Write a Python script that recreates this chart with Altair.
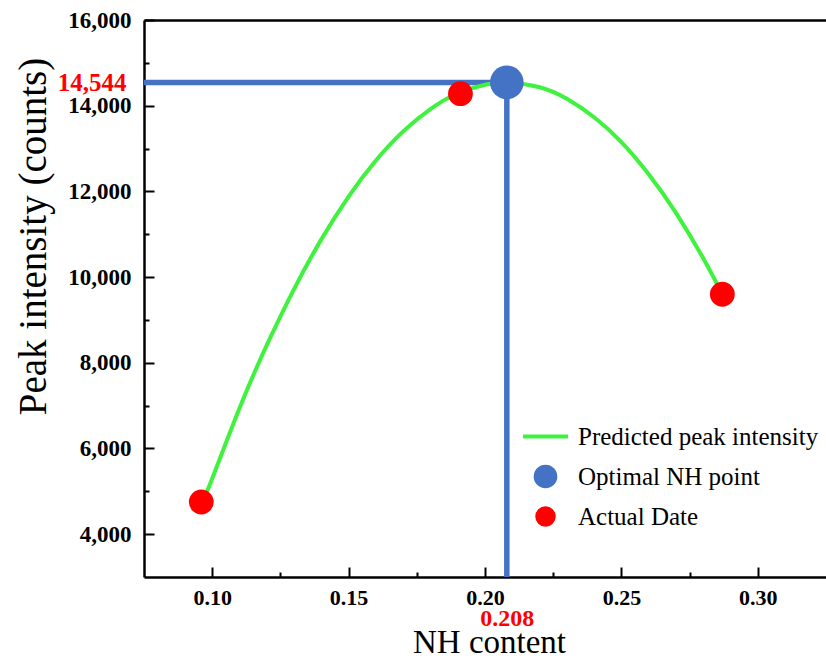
import altair as alt
import pandas as pd

# ---------------- data ----------------
series_names = ["Predicted peak intensity", "Optimal NH point", "Actual Date"]
series_colors = ["#3EF23E", "#4472C4", "#FF0000"]

curve_x = [0.096, 0.10, 0.11, 0.12, 0.13, 0.14, 0.15, 0.16, 0.17, 0.18, 0.19,
           0.20, 0.208, 0.22, 0.23, 0.24, 0.25, 0.26, 0.27, 0.28, 0.287]
curve_y = [4700, 5300, 6940, 8410, 9720, 10880, 11880, 12720, 13400, 13920, 14290,
           14490, 14544, 14430, 14160, 13730, 13150, 12400, 11500, 10440, 9600]

actual_x = [0.096, 0.191, 0.287]
actual_y = [4750, 14280, 9600]

opt_x = 0.208
opt_y = 14544

x_domain = [0.075, 0.325]
y_domain = [3000, 16000]
x_major = [0.10, 0.15, 0.20, 0.25, 0.30]
x_minor = [0.125, 0.175, 0.225, 0.275]
y_major = [4000, 6000, 8000, 10000, 12000, 14000, 16000]
y_minor = [5000, 7000, 9000, 11000, 13000, 15000]

x_title = "NH content"
y_title = "Peak intensity (counts)"

# ---------------- layout ----------------
W, H = 682, 557
FONT = "Liberation Serif"

curve_df = pd.DataFrame({"x": curve_x, "y": curve_y, "series": series_names[0]})
actual_df = pd.DataFrame({"x": actual_x, "y": actual_y, "series": series_names[2]})
opt_df = pd.DataFrame({"x": [opt_x], "y": [opt_y], "x0": [x_domain[0]],
                       "y0": [y_domain[0]], "series": [series_names[1]]})

xs = alt.Scale(domain=x_domain, nice=False, zero=False)
ys = alt.Scale(domain=y_domain, nice=False, zero=False)
cs = alt.Scale(domain=series_names, range=series_colors)

sym_shape = "datum.value === '%s' ? 'stroke' : 'circle'" % series_names[0]
sym_size = "datum.value === '%s' ? 2025 : (datum.value === '%s' ? 560 : 420)" % (series_names[0], series_names[1])
sym_sw = "datum.value === '%s' ? 4 : 0" % series_names[0]
sym_col = "scale('color', datum.value)"

legend = alt.Legend(
    title=None, orient="none", legendX=389, legendY=404, padding=0,
    labelFont=FONT, labelFontSize=25, labelColor="black", labelLimit=0,
    labelOffset=20, rowPadding=14,
    symbolType={"expr": sym_shape},
    symbolSize={"expr": sym_size},
    symbolStrokeWidth={"expr": sym_sw},
    symbolFillColor={"expr": sym_col},
    symbolStrokeColor={"expr": sym_col},
    symbolOpacity=1,
)


def tick_axis(orient, offset, values, size):
    return alt.Axis(orient=orient, offset=offset, values=values, domain=False,
                    labels=False, ticks=True, tickSize=size, tickWidth=2,
                    tickColor="black", grid=False, title=None)


main_x_axis = alt.Axis(
    orient="bottom", values=x_major, format=".2f", domain=True, domainColor="black",
    domainWidth=2.5, ticks=False, tickSize=0, grid=False,
    labelFont=FONT, labelFontWeight="bold", labelFontSize=22, labelColor="black",
    labelPadding=10, title=x_title, titleFont=FONT, titleFontSize=33,
    titleFontWeight="normal", titleColor="black", titleBaseline="alphabetic",
    titleAlign="center", titleX=345, titleY=75,
)
main_y_axis = alt.Axis(
    orient="left", values=y_major, format=",d", domain=True, domainColor="black",
    domainWidth=2.5, ticks=False, tickSize=0, grid=False,
    labelFont=FONT, labelFontWeight="bold", labelFontSize=23, labelColor="black",
    labelPadding=13, title=y_title, titleFont=FONT, titleFontSize=39,
    titleFontWeight="normal", titleColor="black", titleAngle=270,
    titleBaseline="alphabetic", titleAlign="center", titleX=-99, titleY=216,
)
red_y_axis = alt.Axis(
    orient="left", values=[opt_y], format=",d", domain=False, ticks=False, tickSize=0,
    grid=False, labelFont=FONT, labelFontWeight="bold", labelFontSize=25,
    labelColor="#FF0000", labelPadding=18, title=None,
)
red_x_axis = alt.Axis(
    orient="bottom", values=[opt_x], format=".3f", domain=False, ticks=False, tickSize=0,
    grid=False, labelFont=FONT, labelFontWeight="bold", labelFontSize=24,
    labelColor="#FF0000", labelPadding=29, title=None,
)
top_border_axis = alt.Axis(
    orient="top", offset=0, domain=True, domainColor="black", domainWidth=2.5,
    ticks=False, labels=False, grid=False, title=None,
)

hrule = alt.Chart(opt_df).mark_rule(color=series_colors[1], strokeWidth=5.5).encode(
    x=alt.X("x0:Q", scale=xs, axis=tick_axis("top", -H, x_major, 10)),
    x2="x:Q",
    y=alt.Y("y:Q", scale=ys, axis=red_y_axis),
)
vrule = alt.Chart(opt_df).mark_rule(color=series_colors[1], strokeWidth=5.5).encode(
    x=alt.X("x:Q", scale=xs, axis=red_x_axis),
    y=alt.Y("y0:Q", scale=ys, axis=tick_axis("right", -W, y_major, 10)),
    y2="y:Q",
)
line = alt.Chart(curve_df).mark_line(strokeWidth=4, interpolate="natural").encode(
    x=alt.X("x:Q", scale=xs, axis=main_x_axis),
    y=alt.Y("y:Q", scale=ys, axis=main_y_axis),
    color=alt.Color("series:N", scale=cs, legend=legend),
)
actual = alt.Chart(actual_df).mark_point(filled=True, size=616, opacity=1).encode(
    x=alt.X("x:Q", scale=xs, axis=tick_axis("top", -H, x_minor, 5)),
    y=alt.Y("y:Q", scale=ys, axis=tick_axis("right", -W, y_minor, 5)),
    color=alt.Color("series:N", scale=cs, legend=legend),
)
optimal = alt.Chart(opt_df).mark_point(filled=True, size=1134, opacity=1).encode(
    x=alt.X("x:Q", scale=xs, axis=top_border_axis),
    y=alt.Y("y:Q", scale=ys, axis=None),
    color=alt.Color("series:N", scale=cs, legend=legend),
)

chart = (
    alt.layer(hrule, vrule, line, actual, optimal)
    .resolve_axis(x="independent", y="independent")
    .properties(
        width=W, height=H,
        autosize=alt.AutoSizeParams(type="none"),
        padding={"left": 144, "top": 20, "right": 0, "bottom": 83},
        background="white",
    )
    .configure_view(stroke=None)
)

chart.save("out.html", embed_options={"renderer": "svg", "actions": False})
